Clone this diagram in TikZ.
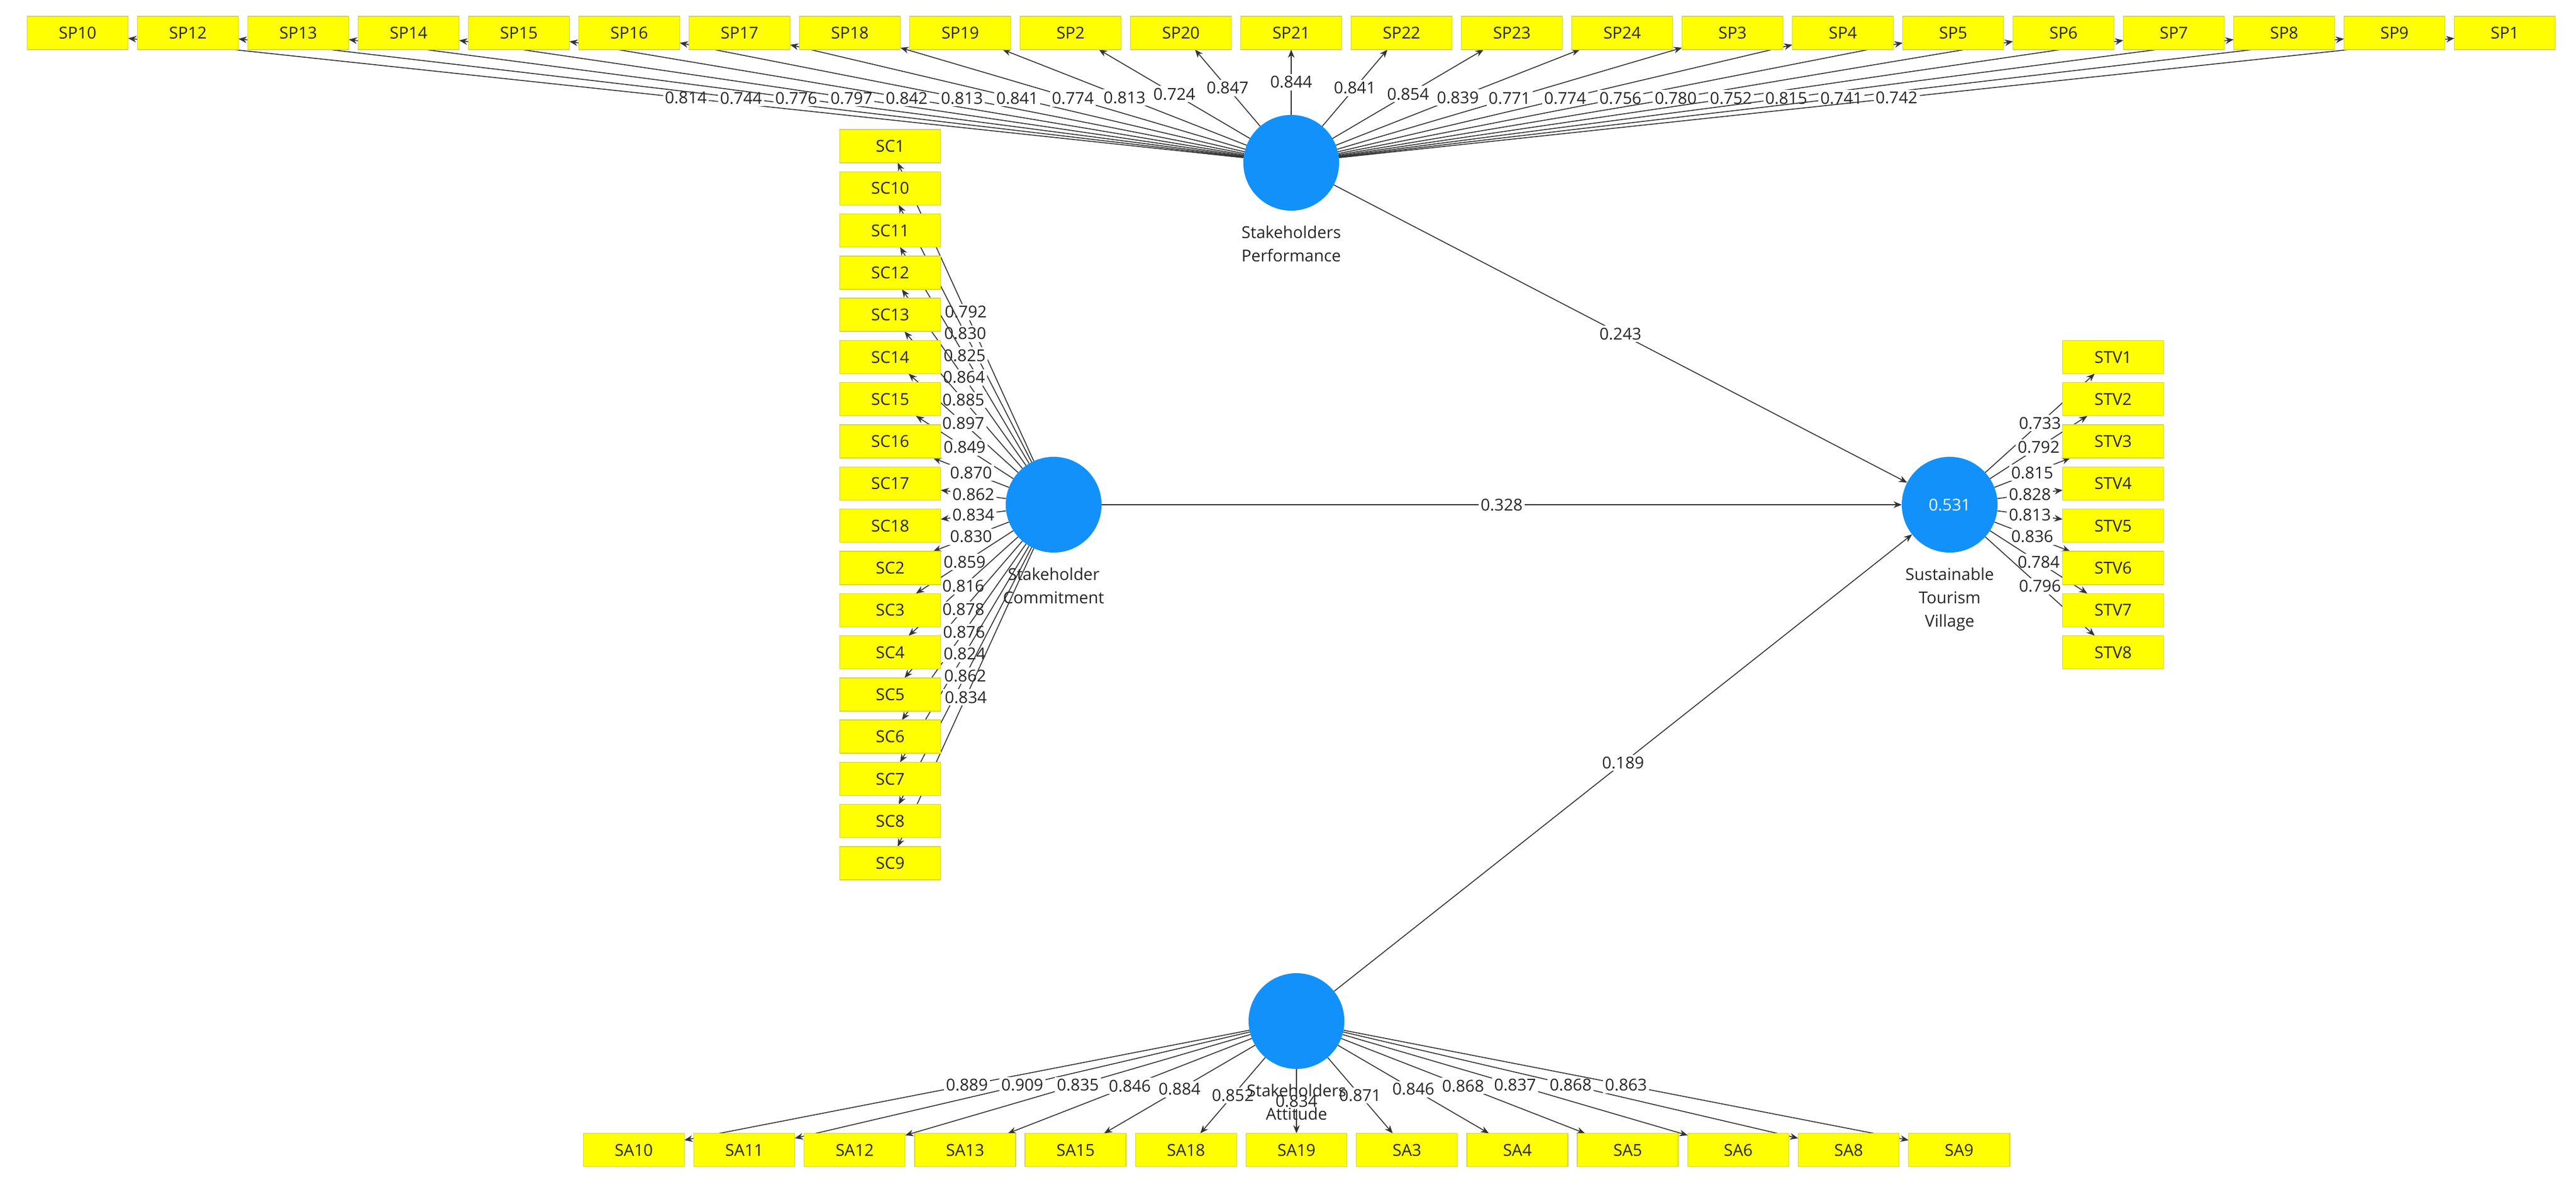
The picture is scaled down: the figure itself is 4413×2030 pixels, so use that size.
\documentclass[tikz,border=0pt]{standalone}
\usepackage{fontspec}
\setmainfont{Open Sans}
\usetikzlibrary{arrows.meta}
\pgfdeclarelayer{back}
\pgfsetlayers{back,main}
\definecolor{latblue}{RGB}{18,145,250}
\definecolor{indyel}{RGB}{255,255,0}
\definecolor{indedge}{RGB}{214,214,60}
\newcommand\lblfont{\fontsize{8}{11.4}\selectfont}
\begin{document}
\begin{tikzpicture}[x=0.01cm,y=-0.01cm,
  ind/.style={rectangle, fill=indyel, draw=indedge, line width=0.4pt, minimum width=1.73cm, minimum height=0.57cm, inner sep=0pt, outer sep=0pt, font=\lblfont, text=black!85},
  lat/.style={circle, fill=latblue, minimum size=1.64cm, inner sep=0pt, outer sep=0pt},
  latlab/.style={align=center, font=\lblfont, inner sep=0pt, anchor=north, text=black!85},
  link/.style={draw=black!80, line width=0.45pt, -{Stealth[length=4pt,width=3.2pt]}},
  lab/.style={fill=white, inner sep=1pt, font=\lblfont, text=black!85},
]
\path[use as bounding box] (0,0) rectangle (4413,2030);

% latent variables
\node[lat] (SP) at (2212,279) {};
\node[lat] (SC) at (1805,865) {};
\node[lat, text=white, font=\lblfont] (STV) at (3340,865) {0.531};
\node[lat] (SA) at (2221,1750) {};

% indicators
\foreach \n [count=\i from 0] in {SP10,SP12,SP13,SP14,SP15,SP16,SP17,SP18,SP19,SP2,SP20,SP21,SP22,SP23,SP24,SP3,SP4,SP5,SP6,SP7,SP8,SP9,SP1}
  \node[ind] (\n) at ({2212+(\i-11)*189},56.5) {\n};
\foreach \n [count=\i from 0] in {SC1,SC10,SC11,SC12,SC13,SC14,SC15,SC16,SC17,SC18,SC2,SC3,SC4,SC5,SC6,SC7,SC8,SC9}
  \node[ind] (\n) at (1525,{865+(\i-8.5)*72.3}) {\n};
\foreach \n [count=\i from 0] in {STV1,STV2,STV3,STV4,STV5,STV6,STV7,STV8}
  \node[ind] (\n) at (3620,{865+(\i-3.5)*72.3}) {\n};
\foreach \n [count=\i from 0] in {SA10,SA11,SA12,SA13,SA15,SA18,SA19,SA3,SA4,SA5,SA6,SA8,SA9}
  \node[ind] (\n) at ({2221+(\i-6)*189.2},1971) {\n};

% latent labels (drawn on top, no fill)
\node[latlab] (SPlab) at ([yshift=-0.256cm]SP.south) {Stakeholders\\Performance};
\node[latlab] (SClab) at ([yshift=-0.256cm]SC.south) {Stakeholder\\Commitment};
\node[latlab] (STVlab) at ([yshift=-0.256cm]STV.south) {Sustainable\\Tourism\\Village};
\node[latlab] (SAlab) at ([yshift=-0.256cm]SA.south) {Stakeholders\\Attitude};

\begin{pgfonlayer}{back}
% outer loadings
\foreach \n/\v in {SP10/0.814,SP12/0.744,SP13/0.776,SP14/0.797,SP15/0.842,SP16/0.813,SP17/0.841,SP18/0.774,SP19/0.813,SP2/0.724,SP20/0.847,SP21/0.844,SP22/0.841,SP23/0.854,SP24/0.839,SP3/0.771,SP4/0.774,SP5/0.756,SP6/0.780,SP7/0.752,SP8/0.815,SP9/0.741,SP1/0.742}
  \draw[link] (SP) -- (\n) node[midway,lab] {\v};
\foreach \n/\v in {SC1/0.792,SC10/0.830,SC11/0.825,SC12/0.864,SC13/0.885,SC14/0.897,SC15/0.849,SC16/0.870,SC17/0.862,SC18/0.834,SC2/0.830,SC3/0.859,SC4/0.816,SC5/0.878,SC6/0.876,SC7/0.824,SC8/0.862,SC9/0.834}
  \draw[link] (SC) -- (\n) node[midway,lab] {\v};
\foreach \n/\v in {STV1/0.733,STV2/0.792,STV3/0.815,STV4/0.828,STV5/0.813,STV6/0.836,STV7/0.784,STV8/0.796}
  \draw[link] (STV) -- (\n) node[midway,lab] {\v};
\foreach \n/\v in {SA10/0.889,SA11/0.909,SA12/0.835,SA13/0.846,SA15/0.884,SA18/0.852,SA19/0.834,SA3/0.871,SA4/0.846,SA5/0.868,SA6/0.837,SA8/0.868,SA9/0.863}
  \draw[link] (SA) -- (\n) node[midway,lab] {\v};

% path coefficients
\draw[link] (SP) -- (STV) node[midway,lab] {0.243};
\draw[link] (SC) -- (STV) node[midway,lab] {0.328};
\draw[link] (SA) -- (STV) node[midway,lab] {0.189};
\end{pgfonlayer}
\end{tikzpicture}
\end{document}
